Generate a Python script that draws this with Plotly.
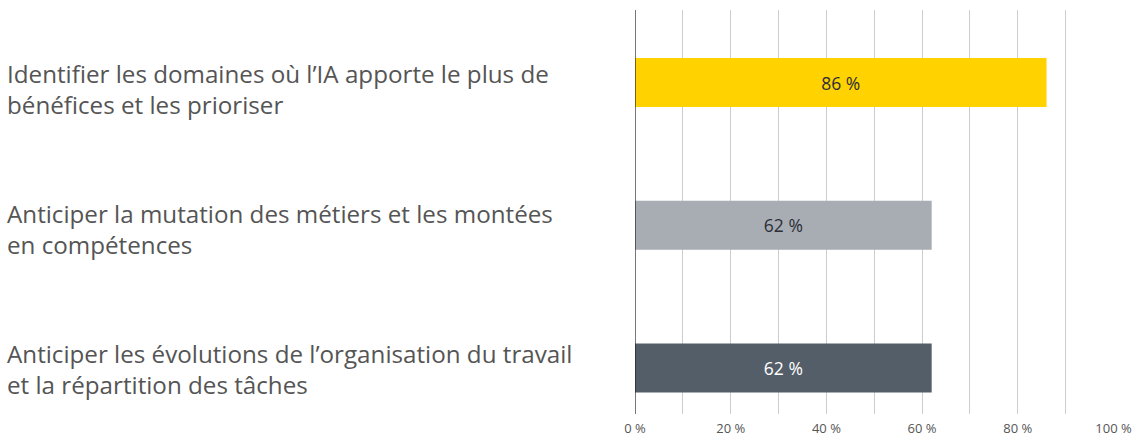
import plotly.graph_objects as go

categories = [
    "Identifier les domaines où l’IA apporte le plus de<br>bénéfices et les prioriser",
    "Anticiper la mutation des métiers et les montées<br>en compétences",
    "Anticiper les évolutions de l’organisation du travail<br>et la répartition des tâches",
]
values = [86, 62, 62]
bar_colors = ["#FFD200", "#A7ADB3", "#545E69"]
text_colors = ["#2E2E38", "#2E2E38", "#FFFFFF"]
tick_vals = [0, 10, 20, 30, 40, 50, 60, 70, 80, 90, 100]
tick_text = ["0 %", "", "20 %", "", "40 %", "", "60 %", "", "80 %", "", "100 %"]

W, H = 1133, 438
ml, mr, mt, mb = 635, 19, 10, 24
label_shifts = [-6.5, -3.5, -1]

fig = go.Figure()
fig.add_trace(go.Bar(
    x=values,
    y=categories,
    orientation="h",
    marker=dict(color=bar_colors, line=dict(width=0)),
    width=0.343,
    text=[f"{v} %" for v in values],
    textposition="inside",
    insidetextanchor="middle",
    textfont=dict(family="Open Sans", size=17.5, color=text_colors),
    hoverinfo="skip",
))

for c, s in zip(categories, label_shifts):
    fig.add_annotation(
        x=(5 - ml) / (W - ml - mr), xref="paper", xanchor="left",
        y=c, yref="y", yanchor="middle", yshift=s,
        text=c, showarrow=False, align="left",
        font=dict(family="Open Sans", size=24.2, color="#555555"),
    )

fig.update_layout(
    width=W, height=H,
    margin=dict(l=ml, r=mr, t=mt, b=mb, pad=0, autoexpand=False),
    plot_bgcolor="white", paper_bgcolor="white",
    showlegend=False,
    xaxis=dict(
        range=[0, 100.1], tickvals=tick_vals, ticktext=tick_text,
        showgrid=True, gridcolor="#CCCCCC", gridwidth=1,
        zeroline=False, showline=False, ticks="", automargin=False,
        ticklabelstandoff=5,
        tickfont=dict(family="Open Sans", size=13, color="#555555"),
    ),
    yaxis=dict(
        type="category", categoryorder="array", categoryarray=categories,
        range=[2.322, -0.508], showticklabels=False, showgrid=False,
        zeroline=False, showline=False, ticks="", automargin=False,
    ),
    shapes=[dict(type="line", xref="x", yref="paper", x0=0, x1=0, y0=0, y1=1,
                 line=dict(color="#1A1A24", width=1.2))],
)

fig.write_html(
    "out.html",
    config={"displayModeBar": False},
    post_script="document.body.style.margin='0';document.body.style.overflow='hidden';",
)
